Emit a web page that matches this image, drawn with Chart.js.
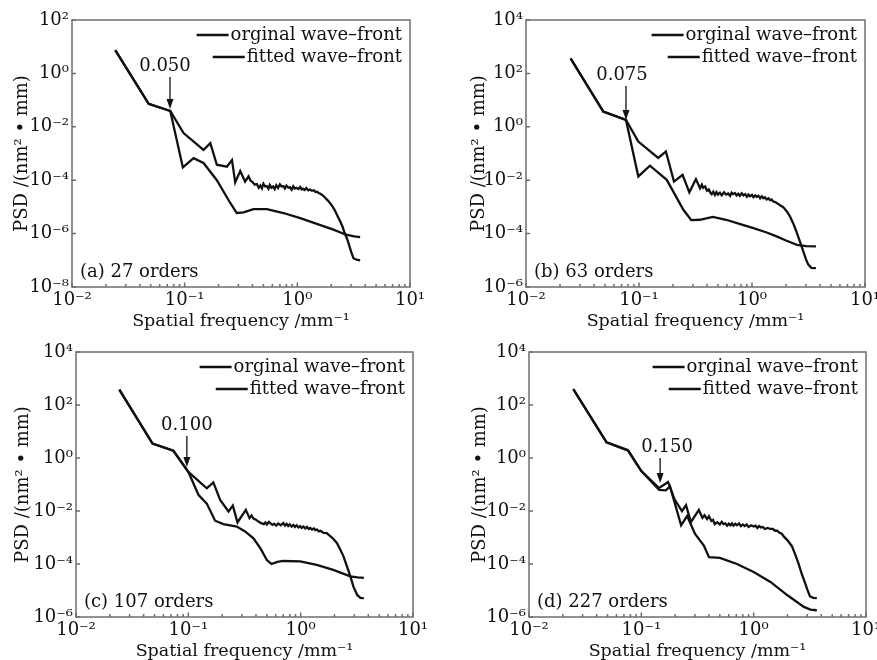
<!DOCTYPE html>
<html lang="en">
<head>
<meta charset="UTF-8">
<title>PSD of original and fitted wave-fronts</title>
<script src="https://cdn.jsdelivr.net/npm/chart.js"></script>
<style>
    body {
        margin: 0;
        background: #fff;
        width: 877px;
        height: 660px;
        position: relative;
        overflow: hidden;
    }
    .panel {
        position: absolute;
    }
</style>
</head>
<body>
<div class="panel" style="left:0;top:0"><canvas id="chartA" width="438" height="340"></canvas></div>
<div class="panel" style="left:438px;top:0"><canvas id="chartB" width="439" height="340"></canvas></div>
<div class="panel" style="left:0;top:330px"><canvas id="chartC" width="438" height="330"></canvas></div>
<div class="panel" style="left:438px;top:330px"><canvas id="chartD" width="439" height="330"></canvas></div>
<script>
// axis ticks
const xTicks = [0.01, 0.1, 1, 10];
const xTickLabels = ['10⁻²', '10⁻¹', '10⁰', '10¹'];
const yTicksA = [1e-8, 1e-6, 1e-4, 1e-2, 1, 100];
const yTickLabelsA = ['10⁻⁸', '10⁻⁶', '10⁻⁴', '10⁻²', '10⁰', '10²'];
const yTicksB = [1e-6, 1e-4, 1e-2, 1, 100, 1e4];
const yTickLabelsB = ['10⁻⁶', '10⁻⁴', '10⁻²', '10⁰', '10²', '10⁴'];

const seriesNames = ['orginal wave–front', 'fitted wave–front'];
const panelNotes = ['(a) 27 orders', '(b) 63 orders', '(c) 107 orders', '(d) 227 orders'];
const cutoffLabels = ['0.050', '0.075', '0.100', '0.150'];

// (a) 27 orders
const freqOrigA = [0.0242, 0.0479, 0.0745, 0.0977, 0.147, 0.169, 0.193, 0.237, 0.263, 0.281, 0.311, 0.344, 0.369, 0.385, 0.40, 0.418, 0.437, 0.455, 0.47, 0.485, 0.50, 0.518, 0.536, 0.555, 0.57, 0.59, 0.61, 0.63, 0.65, 0.675, 0.70, 0.725, 0.753, 0.775, 0.80, 0.83, 0.86, 0.89, 0.92, 0.95, 0.98, 1.02, 1.06, 1.09, 1.12, 1.16, 1.20, 1.25, 1.30, 1.35, 1.40, 1.45, 1.49, 1.55, 1.60, 1.68, 1.75, 1.85, 1.95, 2.05, 2.15, 2.28, 2.40, 2.52, 2.62, 2.74, 2.84, 3.00, 3.15, 3.35, 3.61];
const psdOrigA = [7.5, 0.072, 0.039, 0.0058, 0.00137, 0.00245, 0.00038, 0.00032, 0.00057, 0.000083, 0.00022, 0.000089, 0.00014, 0.000095, 0.000085, 0.000068, 0.000072, 0.000052, 0.000064, 0.000050, 0.000074, 0.000058, 0.000060, 0.000048, 0.000066, 0.000052, 0.000058, 0.000047, 0.000065, 0.000051, 0.000070, 0.000058, 0.000060, 0.000049, 0.000062, 0.000053, 0.000054, 0.000044, 0.000059, 0.000049, 0.000052, 0.000047, 0.000056, 0.000045, 0.000048, 0.000043, 0.000051, 0.000042, 0.000045, 0.000040, 0.000042, 0.000036, 0.000037, 0.000033, 0.000031, 0.000027, 0.000023, 0.000018, 0.000014, 0.0000105, 0.0000075, 0.0000045, 0.0000029, 0.0000018, 0.0000011, 0.0000007, 0.00000045, 0.00000021, 0.00000012, 0.000000105, 0.0000001];
const freqFitA = [0.0242, 0.0479, 0.0745, 0.0964, 0.120, 0.147, 0.193, 0.254, 0.290, 0.333, 0.408, 0.536, 0.753, 1.06, 1.49, 2.09, 2.7, 3.2, 3.61];
const psdFitA = [7.5, 0.072, 0.039, 0.0003, 0.00067, 0.00044, 0.0001, 0.000014, 0.0000059, 0.0000062, 0.0000083, 0.0000083, 0.0000059, 0.0000038, 0.0000023, 0.0000014, 0.00000091, 0.00000078, 0.00000074];

// (b) 63 orders
const freqOrigB = [0.0248, 0.0483, 0.0767, 0.0986, 0.148, 0.173, 0.204, 0.243, 0.279, 0.319, 0.347, 0.36, 0.37, 0.385, 0.40, 0.415, 0.43, 0.44, 0.455, 0.47, 0.485, 0.50, 0.52, 0.54, 0.565, 0.59, 0.615, 0.64, 0.66, 0.68, 0.705, 0.73, 0.755, 0.78, 0.81, 0.84, 0.87, 0.90, 0.93, 0.96, 1.0, 1.03, 1.07, 1.10, 1.14, 1.18, 1.22, 1.26, 1.30, 1.35, 1.40, 1.44, 1.49, 1.54, 1.62, 1.70, 1.80, 1.89, 2.05, 2.17, 2.35, 2.5, 2.68, 2.85, 3.0, 3.15, 3.35, 3.68];
const psdOrigB = [368, 3.7, 1.8, 0.28, 0.068, 0.119, 0.0089, 0.016, 0.0035, 0.011, 0.005, 0.0068, 0.0052, 0.0058, 0.0040, 0.0045, 0.0033, 0.0030, 0.0037, 0.0028, 0.0036, 0.0029, 0.0034, 0.0027, 0.0035, 0.0029, 0.0032, 0.0026, 0.0034, 0.0030, 0.0033, 0.0027, 0.0031, 0.0026, 0.0032, 0.0027, 0.0030, 0.0024, 0.0029, 0.0025, 0.0028, 0.0023, 0.0027, 0.0024, 0.0026, 0.0021, 0.0025, 0.0021, 0.0023, 0.0019, 0.0021, 0.0018, 0.0019, 0.0016, 0.0015, 0.0013, 0.0011, 0.00098, 0.00065, 0.00044, 0.00021, 0.000105, 0.000045, 0.000021, 0.000011, 0.0000069, 0.0000052, 0.0000051];
const freqFitB = [0.0248, 0.0483, 0.0767, 0.0986, 0.125, 0.176, 0.247, 0.29, 0.345, 0.45, 0.59, 0.80, 1.03, 1.35, 1.65, 2.0, 2.5, 3.0, 3.68];
const psdFitB = [368, 3.7, 1.8, 0.0138, 0.035, 0.0103, 0.00078, 0.00032, 0.00033, 0.00042, 0.00033, 0.00022, 0.00016, 0.00011, 0.000079, 0.000055, 0.000038, 0.000034, 0.000033];

// (c) 107 orders
const freqOrigC = [0.0243, 0.048, 0.0736, 0.1, 0.146, 0.167, 0.192, 0.228, 0.249, 0.274, 0.325, 0.35, 0.365, 0.38, 0.40, 0.42, 0.445, 0.47, 0.485, 0.50, 0.52, 0.54, 0.56, 0.58, 0.605, 0.63, 0.665, 0.70, 0.725, 0.75, 0.775, 0.80, 0.83, 0.86, 0.89, 0.92, 0.955, 0.99, 1.02, 1.06, 1.10, 1.14, 1.18, 1.22, 1.26, 1.31, 1.35, 1.40, 1.45, 1.50, 1.60, 1.71, 1.80, 1.90, 2.0, 2.1, 2.25, 2.41, 2.6, 2.77, 2.95, 3.18, 3.4, 3.65];
const psdOrigC = [380, 3.5, 1.88, 0.30, 0.072, 0.12, 0.026, 0.0096, 0.016, 0.0037, 0.011, 0.0054, 0.0068, 0.0052, 0.0047, 0.0040, 0.0035, 0.0032, 0.0037, 0.0031, 0.0039, 0.0034, 0.0030, 0.0033, 0.0028, 0.0034, 0.0029, 0.0035, 0.0028, 0.0033, 0.0027, 0.0031, 0.0026, 0.0030, 0.0025, 0.0029, 0.0024, 0.0027, 0.0023, 0.0026, 0.0022, 0.0025, 0.0021, 0.0023, 0.0020, 0.0022, 0.0019, 0.0020, 0.0017, 0.0018, 0.0015, 0.00145, 0.0012, 0.0010, 0.00078, 0.00062, 0.00035, 0.00019, 0.000075, 0.000034, 0.000014, 0.0000069, 0.0000053, 0.0000052];
const freqFitC = [0.0243, 0.048, 0.0736, 0.1, 0.123, 0.146, 0.173, 0.205, 0.27, 0.32, 0.38, 0.44, 0.50, 0.55, 0.62, 0.70, 0.99, 1.39, 1.95, 2.77, 3.2, 3.65];
const psdFitC = [380, 3.5, 1.88, 0.30, 0.041, 0.019, 0.0043, 0.0032, 0.0026, 0.0017, 0.00093, 0.00038, 0.00014, 0.0001, 0.00012, 0.00013, 0.000126, 0.000093, 0.00006, 0.000034, 0.000031, 0.00003];

// (d) 227 orders
const freqOrigD = [0.0248, 0.049, 0.076, 0.1, 0.144, 0.173, 0.198, 0.23, 0.25, 0.276, 0.325, 0.35, 0.365, 0.385, 0.40, 0.42, 0.435, 0.45, 0.475, 0.50, 0.52, 0.54, 0.56, 0.58, 0.60, 0.62, 0.64, 0.66, 0.685, 0.71, 0.74, 0.77, 0.80, 0.83, 0.865, 0.90, 0.95, 1.0, 1.04, 1.08, 1.12, 1.16, 1.21, 1.26, 1.33, 1.41, 1.48, 1.55, 1.62, 1.70, 1.78, 1.85, 2.0, 2.19, 2.35, 2.5, 2.68, 2.87, 3.0, 3.17, 3.4, 3.65];
const psdOrigD = [400, 3.9, 1.95, 0.32, 0.074, 0.125, 0.027, 0.0098, 0.0166, 0.0038, 0.011, 0.0055, 0.0069, 0.0050, 0.0063, 0.0042, 0.0046, 0.0032, 0.0038, 0.0031, 0.0039, 0.0032, 0.0034, 0.0028, 0.0033, 0.0029, 0.0034, 0.0028, 0.0033, 0.0029, 0.0034, 0.0027, 0.0031, 0.0027, 0.0031, 0.0025, 0.0029, 0.0026, 0.0028, 0.0023, 0.0027, 0.0024, 0.0025, 0.0021, 0.0023, 0.0021, 0.0021, 0.0018, 0.0018, 0.0015, 0.0014, 0.0011, 0.00078, 0.00047, 0.00022, 0.000107, 0.000042, 0.000019, 0.000011, 0.000006, 0.0000053, 0.0000052];
const freqFitD = [0.0248, 0.049, 0.076, 0.1, 0.144, 0.165, 0.18, 0.226, 0.256, 0.30, 0.36, 0.40, 0.5, 0.71, 1.0, 1.41, 2.0, 2.8, 3.2, 3.65];
const psdFitD = [400, 3.9, 1.95, 0.32, 0.062, 0.06, 0.085, 0.0029, 0.0065, 0.0014, 0.0005, 0.00018, 0.00017, 0.0001, 0.00005, 0.000021, 0.0000066, 0.0000024, 0.0000019, 0.0000018];

const FONT = '"DejaVu Serif", serif';
const INK = '#111';

// frame, inside ticks, legend, panel note and cut-off arrow
const decoPlugin = {
    id: 'deco',
    afterDatasetsDraw(chart, args, opts) {
        const { ctx, chartArea: a, scales: { x, y } } = chart;
        ctx.save();
        ctx.strokeStyle = '#6e6e6e';
        ctx.lineWidth = 1.5;
        ctx.strokeRect(a.left, a.top, a.right - a.left, a.bottom - a.top);

        ctx.beginPath();
        for (let e = -2; e < 1; e++) {
            for (let m = 2; m < 10; m++) {
                const px = x.getPixelForValue(m * Math.pow(10, e));
                ctx.moveTo(px, a.bottom);
                ctx.lineTo(px, a.bottom - 3);
            }
        }
        xTicks.forEach(v => {
            const px = x.getPixelForValue(v);
            ctx.moveTo(px, a.bottom);
            ctx.lineTo(px, a.bottom - 4.5);
        });
        y.ticks.forEach(t => {
            const py = y.getPixelForValue(t.value);
            ctx.moveTo(a.left, py);
            ctx.lineTo(a.left + 4, py);
        });
        ctx.stroke();

        ctx.font = '18px ' + FONT;
        ctx.fillStyle = INK;
        ctx.textBaseline = 'middle';
        ctx.textAlign = 'left';
        chart.data.datasets.forEach((ds, i) => {
            const w = ctx.measureText(ds.label).width;
            const tx = a.right - 8 - w;
            const ty = a.top + 15 + i * 22;
            ctx.fillText(ds.label, tx, ty);
            ctx.strokeStyle = ds.borderColor;
            ctx.lineWidth = 2.5;
            ctx.beginPath();
            ctx.moveTo(tx - 34, ty);
            ctx.lineTo(tx - 2, ty);
            ctx.stroke();
        });

        ctx.fillText(opts.note, a.left + 8, a.bottom - 15);

        // arrow pointing at the cut-off frequency
        const ax = x.getPixelForValue(opts.arrowAt[0]);
        const ay = y.getPixelForValue(opts.arrowAt[1]);
        ctx.strokeStyle = INK;
        ctx.lineWidth = 1.3;
        ctx.beginPath();
        ctx.moveTo(ax, ay - opts.arrowLen);
        ctx.lineTo(ax, ay - 6);
        ctx.stroke();
        ctx.beginPath();
        ctx.moveTo(ax, ay);
        ctx.lineTo(ax - 3.5, ay - 10);
        ctx.lineTo(ax + 3.5, ay - 10);
        ctx.closePath();
        ctx.fill();
        ctx.textAlign = 'center';
        ctx.fillText(opts.cutoff, ax + opts.labelDx, ay - opts.arrowLen - 11);
        ctx.restore();
    }
};

function toPoints(freq, psd) {
    return freq.map((f, i) => ({ x: f, y: psd[i] }));
}

function makePanel(id, cfg) {
    const canvas = document.getElementById(id);
    const W = canvas.width, H = canvas.height;
    const area = cfg.area;
    return new Chart(canvas, {
        type: 'line',
        data: {
            datasets: [
                { label: seriesNames[0], data: toPoints(cfg.fo, cfg.po), borderColor: INK, borderWidth: 2.3, pointRadius: 0, tension: 0, fill: false },
                { label: seriesNames[1], data: toPoints(cfg.ff, cfg.pf), borderColor: INK, borderWidth: 2.3, pointRadius: 0, tension: 0, fill: false }
            ]
        },
        options: {
            responsive: false,
            animation: false,
            events: [],
            layout: { padding: { left: 0, top: area.top, right: W - area.right, bottom: 0 } },
            plugins: {
                legend: { display: false },
                tooltip: { enabled: false },
                deco: { note: cfg.note, cutoff: cfg.cutoff, arrowAt: cfg.arrowAt, arrowLen: cfg.arrowLen, labelDx: cfg.labelDx }
            },
            scales: {
                x: {
                    type: 'logarithmic',
                    min: 0.01,
                    max: 10,
                    grid: { display: false, drawTicks: false },
                    border: { display: false },
                    afterBuildTicks: s => { s.ticks = xTicks.map(v => ({ value: v })); },
                    afterFit: s => { s.height = H - area.bottom; s.paddingLeft = 0; s.paddingRight = 0; },
                    ticks: {
                        autoSkip: false,
                        maxRotation: 0,
                        padding: 3,
                        color: INK,
                        font: { family: FONT, size: 18 },
                        callback: (v, i) => xTickLabels[i]
                    },
                    title: {
                        display: true,
                        text: 'Spatial frequency /mm⁻¹',
                        color: INK,
                        font: { family: FONT, size: 17.5, lineHeight: 1 },
                        padding: { top: 0, bottom: cfg.xTitlePad }
                    }
                },
                y: {
                    type: 'logarithmic',
                    min: cfg.yTicks[0],
                    max: cfg.yTicks[cfg.yTicks.length - 1],
                    grid: { display: false, drawTicks: false },
                    border: { display: false },
                    afterBuildTicks: s => { s.ticks = cfg.yTicks.map(v => ({ value: v })); },
                    afterFit: s => { s.width = area.left; s.paddingTop = 0; s.paddingBottom = 0; },
                    ticks: {
                        autoSkip: false,
                        padding: 3,
                        color: INK,
                        font: { family: FONT, size: 18 },
                        callback: (v, i) => cfg.yLabels[i]
                    },
                    title: {
                        display: true,
                        text: 'PSD /(nm² • mm)',
                        color: INK,
                        font: { family: FONT, size: 18, lineHeight: 1 },
                        padding: { top: cfg.yTitlePad, bottom: 0 }
                    }
                }
            }
        },
        plugins: [decoPlugin]
    });
}

makePanel('chartA', {
    fo: freqOrigA, po: psdOrigA, ff: freqFitA, pf: psdFitA,
    yTicks: yTicksA, yLabels: yTickLabelsA,
    note: panelNotes[0], cutoff: cutoffLabels[0],
    arrowAt: [0.0741, 0.046], arrowLen: 32, labelDx: -5,
    area: { left: 72, right: 410, top: 20, bottom: 287 },
    yTitlePad: 13, xTitlePad: 10
});
makePanel('chartB', {
    fo: freqOrigB, po: psdOrigB, ff: freqFitB, pf: psdFitB,
    yTicks: yTicksB, yLabels: yTickLabelsB,
    note: panelNotes[1], cutoff: cutoffLabels[1],
    arrowAt: [0.0767, 1.8], arrowLen: 34, labelDx: -4,
    area: { left: 88, right: 427, top: 20, bottom: 287 },
    yTitlePad: 32, xTitlePad: 10
});
makePanel('chartC', {
    fo: freqOrigC, po: psdOrigC, ff: freqFitC, pf: psdFitC,
    yTicks: yTicksB, yLabels: yTickLabelsB,
    note: panelNotes[2], cutoff: cutoffLabels[2],
    arrowAt: [0.097, 0.457], arrowLen: 31, labelDx: 0,
    area: { left: 76, right: 413, top: 22, bottom: 287 },
    yTitlePad: 14, xTitlePad: 0
});
makePanel('chartD', {
    fo: freqOrigD, po: psdOrigD, ff: freqFitD, pf: psdFitD,
    yTicks: yTicksB, yLabels: yTickLabelsB,
    note: panelNotes[3], cutoff: cutoffLabels[3],
    arrowAt: [0.147, 0.114], arrowLen: 25, labelDx: 7,
    area: { left: 91, right: 428, top: 22, bottom: 287 },
    yTitlePad: 33, xTitlePad: 0
});
</script>
</body>
</html>
